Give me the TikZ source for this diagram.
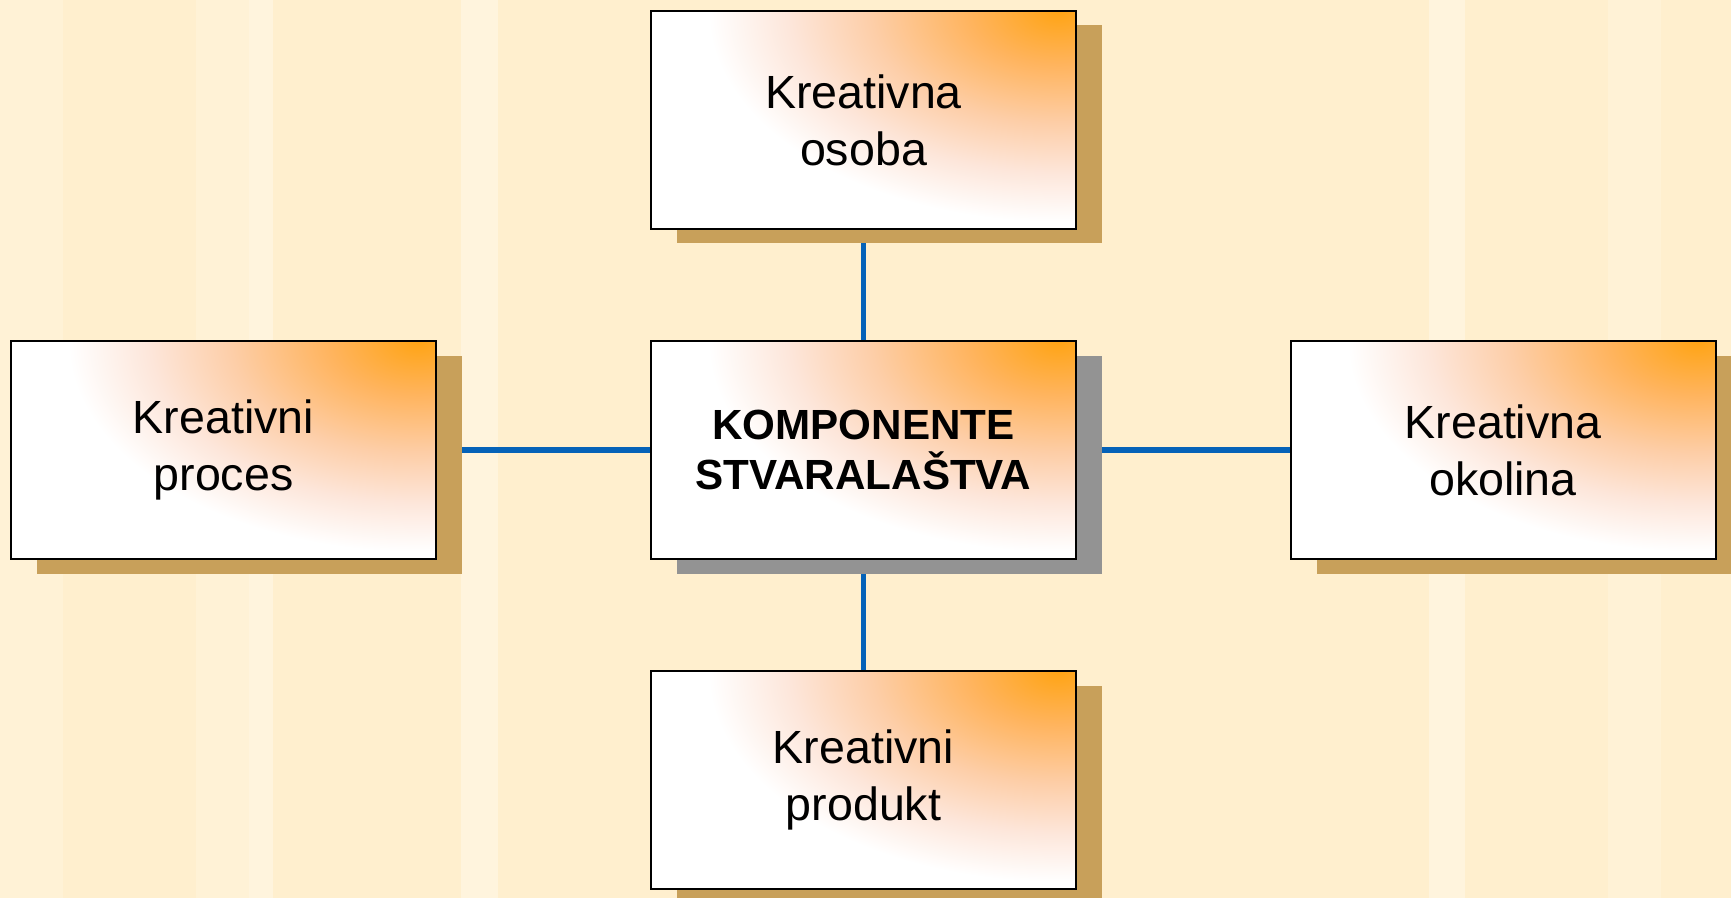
\documentclass[tikz,border=0pt]{standalone}
\usepackage{fontspec}
\setmainfont{Liberation Sans}
\usetikzlibrary{shadows}
\definecolor{papir}{HTML}{FFEFCE}
\definecolor{papirsvj}{HTML}{FFF2D6}
\definecolor{papirbij}{HTML}{FFF4DD}
\definecolor{sjena}{HTML}{C8A05A}
\definecolor{sjenasiva}{HTML}{939393}
\definecolor{linija}{HTML}{0562B8}
\definecolor{narA}{HTML}{FFA415}
\definecolor{narB}{HTML}{FFB45E}
\definecolor{narC}{HTML}{FDCEA8}
\definecolor{narD}{HTML}{FDE6DA}
\pgfdeclareradialshading{sjaj}{\pgfpoint{0bp}{0bp}}{color(0bp)=(narA); color(5.5bp)=(narB); color(11.5bp)=(narC); color(16.5bp)=(narD); color(21.5bp)=(white); color(50bp)=(white)}
\pgfdeclarelayer{pozadina}
\pgfdeclarelayer{veze}
\pgfsetlayers{pozadina,veze,main}
\tikzset{
    kutija/.style = {rectangle, draw = black, line width = 0.04cm, fill = white,
        minimum width = 8.5cm, minimum height = 4.36cm, inner sep = 0pt, align = center,
        font = \fontsize{26.5}{32.5}\selectfont,
        path picture = {\shade [shading = sjaj] (path picture bounding box.north east) ellipse (7.8cm and 4.9cm);},
        general shadow = {fill = #1, draw = none, path picture = {}, shadow xshift = 0.52cm, shadow yshift = -0.29cm}},
    kutija/.default = sjena,
    veza/.style = {draw = linija, line width = 0.11cm}
}
\begin{document}
\begin{tikzpicture}
    \useasboundingbox (0, 0) rectangle (34.62, -17.96);
    \begin{pgfonlayer}{pozadina}
        \fill [papir] (0, 0) rectangle (34.62, -17.96);
        \foreach \a/\b in {0/63, 196/249, 1608/1661}
            \fill [papirsvj] (\a*0.02, 0) rectangle (\b*0.02, -17.96);
        \foreach \a/\b in {249/273, 461/498, 1429/1465}
            \fill [papirbij] (\a*0.02, 0) rectangle (\b*0.02, -17.96);
    \end{pgfonlayer}

    \node [kutija] (osoba) at (17.27, -2.40) {Kreativna\\osoba};
    \node [kutija = sjenasiva, font = \fontsize{24}{28.5}\selectfont\bfseries] (komponente) at (17.27, -9.00) {KOMPONENTE\\STVARALAŠTVA};
    \node [kutija] (proces) at (4.47, -9.00) {Kreativni\\proces};
    \node [kutija] (okolina) at (30.06, -9.00) {Kreativna\\okolina};
    \node [kutija] (produkt) at (17.27, -15.60) {Kreativni\\produkt};

    \begin{pgfonlayer}{veze}
        \draw [veza]
            (komponente.center) -- (osoba.center)
            (komponente.center) -- (produkt.center)
            (komponente.center) -- (proces.center)
            (komponente.center) -- (okolina.center)
        ;
    \end{pgfonlayer}
\end{tikzpicture}
\end{document}
